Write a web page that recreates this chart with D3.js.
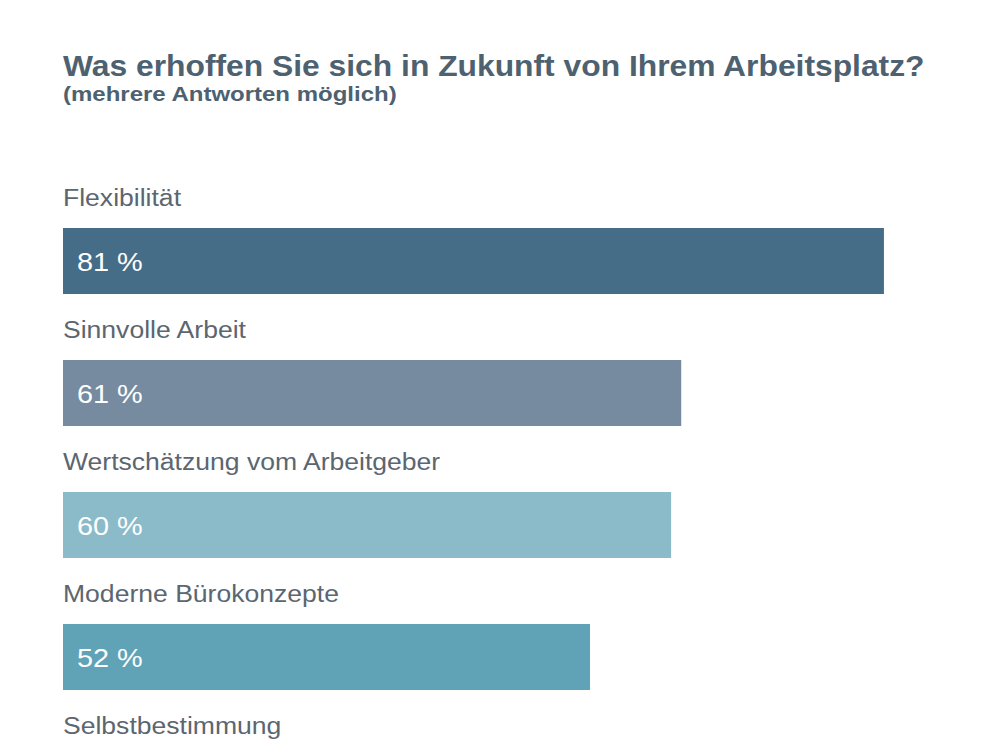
<!DOCTYPE html>
<html>
<head>
<meta charset="utf-8">
<script src="https://cdn.jsdelivr.net/npm/d3@7"></script>
<style>
  body { margin: 0; background: #fff; }
  text { font-family: "Liberation Sans", Arial, sans-serif; }
</style>
</head>
<body>
<svg id="chart" width="1000" height="750"></svg>
<script>
const categories = ["Flexibilität", "Sinnvolle Arbeit", "Wertschätzung vom Arbeitgeber", "Moderne Bürokonzepte", "Selbstbestimmung"];
const values = [81, 61, 60, 52, 45];
const colors = ["#466d87", "#768ba0", "#8bbac9", "#60a3b6", "#466d87"];

const height = 750;
const svg = d3.select("#chart");

// the reference text is a bit wider than Liberation Sans, so stretch it sideways
const stretch = (x, y, sx) => "translate(" + x + "," + y + ") scale(" + sx + ",1)";

svg.append("text")
  .attr("transform", stretch(63, 76, 1.097))
  .attr("font-size", 29).attr("font-weight", "bold")
  .attr("fill", "#4d6170")
  .text("Was erhoffen Sie sich in Zukunft von Ihrem Arbeitsplatz?");
svg.append("text")
  .attr("transform", stretch(63, 101, 1.2))
  .attr("font-size", 20).attr("font-weight", "bold")
  .attr("fill", "#4d6170")
  .text("(mehrere Antworten möglich)");

const x = d3.scaleLinear().domain([0, 100]).range([63, 1076.5]);
const y = d3.scaleBand().domain(categories).range([176, 176 + 132 * categories.length]);

const rows = svg.selectAll("g.row")
  .data(categories)
  .enter().append("g")
  .attr("class", "row")
  .attr("transform", d => "translate(0," + y(d) + ")");

rows.append("text")
  .attr("transform", stretch(63, 30, 1.13))
  .attr("font-size", 23.5)
  .attr("fill", "#5b6670")
  .text(d => d);

rows.append("rect")
  .attr("x", x(0)).attr("y", 52)
  .attr("width", (d, i) => x(values[i]) - x(0))
  .attr("height", 66)
  .attr("fill", (d, i) => colors[i]);

// last bar runs off the bottom of the picture, so only label the visible ones
rows.filter(d => y(d) + 95 < height)
  .append("text")
  .attr("transform", stretch(77, 95, 1.11))
  .attr("font-size", 26)
  .attr("fill", "#fff")
  .text(d => values[categories.indexOf(d)] + " %");
</script>
</body>
</html>
